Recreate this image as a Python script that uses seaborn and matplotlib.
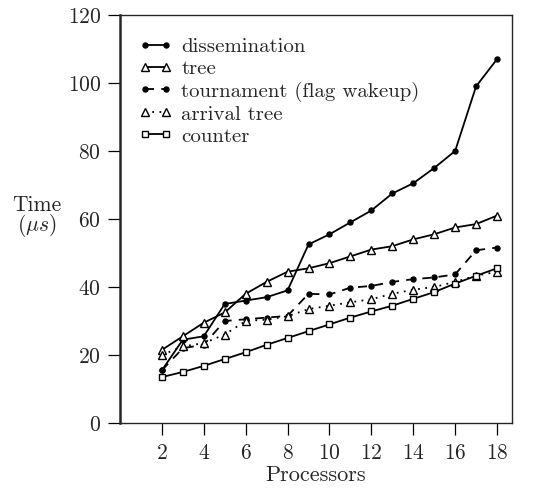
import numpy as np
import pandas as pd
import matplotlib
matplotlib.use("Agg")
import matplotlib.pyplot as plt
import seaborn as sns

# ── Data ──────────────────────────────────────────────────────────────────────
processors = [2, 3, 4, 5, 6, 7, 8, 9, 10, 11, 12, 13, 14, 15, 16, 17, 18]

dissemination = [15.5, 24.5, 25.5, 35, 36, 37, 39, 52.5, 55.5, 59, 62.5,
                 67.5, 70.5, 75, 80, 99, 107]
tree = [21.5, 25.5, 29.5, 32.5, 38, 41.5, 44.5, 45.5, 47, 49, 51,
        52, 54, 55.5, 57.5, 58.5, 61]
tournament = [15.5, 22, 23, 30, 30.5, 31, 31.5, 38, 37.8, 39.8, 40.3,
              41.5, 42.3, 42.8, 43.7, 50.8, 51.6]
arrival_tree = [20, 22.5, 23.5, 26, 30, 30.4, 31.4, 33.5, 34.5, 35.5, 36.4,
                38, 39.2, 40, 41.5, 43.3, 44.5]
counter = [13.5, 15, 16.8, 18.8, 20.8, 23, 25, 27, 29, 31, 32.8,
           34.5, 36.5, 38.5, 41, 43.3, 45.5]

labels = ["dissemination", "tree", "tournament (flag wakeup)", "arrival tree", "counter"]
y_ticks = [0, 20, 40, 60, 80, 100, 120]
x_ticks = [2, 4, 6, 8, 10, 12, 14, 16, 18]

# ── Style ─────────────────────────────────────────────────────────────────────
sns.set_style("ticks")
plt.rcParams["font.family"] = ["cmr10", "DejaVu Serif"]
plt.rcParams["mathtext.fontset"] = "cm"
plt.rcParams["axes.unicode_minus"] = False
plt.rcParams["axes.formatter.use_mathtext"] = True

series = {
    "dissemination": dict(data=dissemination, marker="o", ls="-", mfc="black", ms=3.6),
    "tree": dict(data=tree, marker="^", ls="-", mfc="white", ms=6),
    "tournament (flag wakeup)": dict(data=tournament, marker="o", ls=(0, (5, 4)), mfc="black", ms=3.6),
    "arrival tree": dict(data=arrival_tree, marker="^", ls=(0, (1, 3)), mfc="white", ms=6),
    "counter": dict(data=counter, marker="s", ls="-", mfc="white", ms=5),
}

fig = plt.figure(figsize=(5.34, 4.91), dpi=100)
ax = fig.add_axes([0.2247, 0.1385, 0.7343, 0.831])

for name in labels:
    s = series[name]
    df = pd.DataFrame({"p": processors, "t": s["data"]})
    sns.lineplot(data=df, x="p", y="t", ax=ax, color="black", label=name,
                 marker=s["marker"], linestyle=s["ls"], markerfacecolor=s["mfc"],
                 markeredgecolor="black", markersize=s["ms"], markeredgewidth=1.0,
                 linewidth=1.3)

ax.set_xlim(0, 18.72)
ax.set_ylim(0, 120)
ax.set_xticks(x_ticks)
ax.set_yticks(y_ticks)
ax.tick_params(direction="out", length=8.5, width=0.9, labelsize=15.5, color="black")
ax.tick_params(axis="x", pad=6)
ax.tick_params(axis="y", pad=5)

for side in ["top", "right", "bottom"]:
    ax.spines[side].set_linewidth(1.0)
    ax.spines[side].set_visible(True)
ax.spines["left"].set_linewidth(1.8)

ax.set_xlabel("Processors", fontsize=16, labelpad=2)
ax.set_ylabel("Time\n($\\mu s$)", fontsize=15.5, rotation=0, ha="center", va="center",
              linespacing=0.85)
ax.yaxis.set_label_coords(-0.212, 0.505)

ax.legend(loc="upper left", frameon=False, numpoints=2, fontsize=15,
          handlelength=1.6, handletextpad=0.45, labelspacing=0.16,
          borderaxespad=0.5, bbox_to_anchor=(0.0, 0.99))

fig.savefig("out.png", dpi=100)
plt.close(fig)
